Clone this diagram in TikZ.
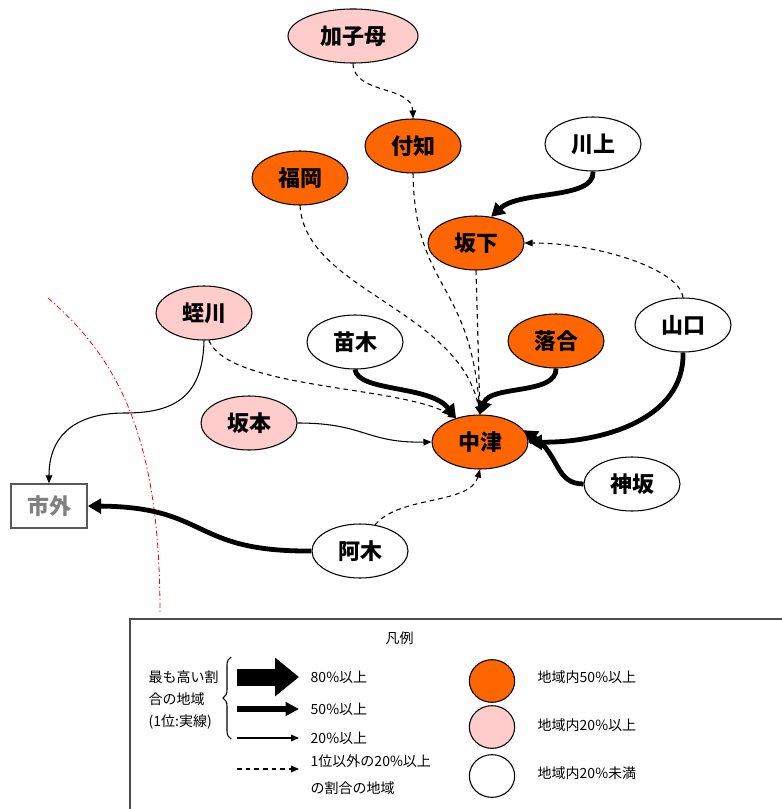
\documentclass[tikz,border=0pt]{standalone}
\usepackage{fontspec}
\setmainfont{Noto Sans CJK JP}
\usepackage{tikz}
\usetikzlibrary{shapes.geometric,arrows.meta,decorations.pathreplacing}
\definecolor{over50}{RGB}{255,102,0}
\definecolor{over20}{RGB}{255,204,204}

\begin{document}
\begin{tikzpicture}[x=0.75pt, y=-0.75pt,
  area/.style={ellipse, draw, line width=0.8pt, fill=#1,
               minimum width=72pt, minimum height=40.5pt, inner sep=0pt,
               font=\fontsize{16.5}{18}\selectfont\bfseries},
  area/.default=white,
  first/.style={line width=3.6pt, -{Triangle[length=10pt,width=11pt]}},
  thin/.style={line width=0.8pt, -{Triangle[length=6pt,width=5pt]}},
  other/.style={line width=0.8pt, dash pattern=on 3.5pt off 3pt,
                -{Triangle[length=6pt,width=5pt]}},
  key/.style={anchor=west, align=left, font=\fontsize{10.5}{16.5}\selectfont},
]
  \useasboundingbox (0,0) rectangle (781,809);

  % border of the city
  \draw[red, line width=0.6pt, dash pattern=on 4pt off 2pt on 1pt off 2pt]
    (48,298) .. controls (120,360) and (160,440) .. (160,612);

  % areas
  \node[area=over20, minimum width=97.5pt] (kashimo) at (353,36) {加子母};
  \node[area=over50] (tsukechi) at (413,146) {付知};
  \node[area=over50] (fukuoka) at (300,178) {福岡};
  \node[area] (kawaue) at (593,144) {川上};
  \node[area=over50] (sakashita) at (476,243) {坂下};
  \node[area=over20] (hirukawa) at (204,313) {蛭川};
  \node[area] (naegi) at (355,342) {苗木};
  \node[area=over50] (ochiai) at (556,341) {落合};
  \node[area] (yamaguchi) at (683,325) {山口};
  \node[area=over20] (sakamoto) at (249,423) {坂本};
  \node[area=over50] (nakatsu) at (480,442) {中津};
  \node[area] (mizaka) at (632,484) {神坂};
  \node[area] (agi) at (360,551) {阿木};
  \node[rectangle, draw=black!65, line width=1.1pt, text=black!50,
        minimum width=57pt, minimum height=33pt, inner sep=0pt,
        font=\fontsize{16.5}{18}\selectfont\bfseries] (shigai) at (49,506) {市外};

  % first (solid)
  \draw[first] (kawaue.south) .. controls (595,200) and (520,190) .. (sakashita.60);
  \draw[first] (naegi.south) .. controls (358,392) and (430,385) .. (nakatsu.135);
  \draw[first] (ochiai.south) .. controls (557,395) and (490,385) .. (nakatsu.north);
  \draw[first] (yamaguchi.south) .. controls (685,420) and (600,443) .. (nakatsu.east);
  \draw[first] (mizaka.west) .. controls (555,484) and (560,455) .. (nakatsu.15);
  \draw[first] (agi.west) .. controls (190,552) and (210,507) .. (shigai.east);
  \draw[thin] (sakamoto.east) .. controls (365,423) and (365,443) .. (nakatsu.west);
  \draw[thin] (hirukawa.south) .. controls (203,400) and (170,413) .. (125,413)
    .. controls (70,413) and (49,440) .. (shigai.north);

  % others (dashed)
  \draw[other] (kashimo.south) .. controls (354,95) and (412,85) .. (tsukechi.north);
  \draw[other] (fukuoka.south) .. controls (305,290) and (460,310) .. (nakatsu.north);
  \draw[other] (tsukechi.south) .. controls (415,290) and (470,280) .. (nakatsu.north);
  \draw[other] (sakashita.south) -- (nakatsu.north);
  \draw[other] (yamaguchi.north) .. controls (680,270) and (600,243) .. (sakashita.east);
  \draw[other] (hirukawa.-80) .. controls (230,390) and (400,385) .. (nakatsu.135);
  \draw[other] (agi.60) .. controls (400,495) and (470,505) .. (nakatsu.south);

  % legend
  \draw[black!70, line width=1.1pt] (130,619) rectangle (790,815);
  \node[key] (title) at (381,638) {凡例};
  \node[key] (firstkey) at (144,700) {最も高い割\\合の地域\\(1位:実線)};
  \draw[line width=0.8pt, decorate, decoration={brace, amplitude=6pt}]
    (231,739) -- (231,657);
  \draw[line width=12.75pt, -{Triangle[length=18pt,width=28pt]}] (237,677) -- (299,677);
  \draw[line width=4.2pt, -{Triangle[length=10pt,width=10pt]}] (237,709) -- (299,709);
  \draw[thin] (237,738) -- (299,738);
  \draw[other] (237,769) -- (299,769);
  \node[key] (k80) at (306,677) {80\%以上};
  \node[key] (k50) at (306,709) {50\%以上};
  \node[key] (k20) at (306,738) {20\%以上};
  \node[key, font=\fontsize{10.5}{20}\selectfont] (kother) at (306,775)
    {1位以外の20\%以上\\の割合の地域};
  \node[area=over50, minimum width=34pt, minimum height=32pt] (a50) at (492,681) {};
  \node[area=over20, minimum width=34pt, minimum height=32pt] (a20) at (492,727) {};
  \node[area, minimum width=34pt, minimum height=32pt] (a0) at (492,776) {};
  \node[key] (t50) at (533,677) {地域内50\%以上};
  \node[key] (t20) at (533,725) {地域内20\%以上};
  \node[key] (t0) at (533,773) {地域内20\%未満};
\end{tikzpicture}
\end{document}
